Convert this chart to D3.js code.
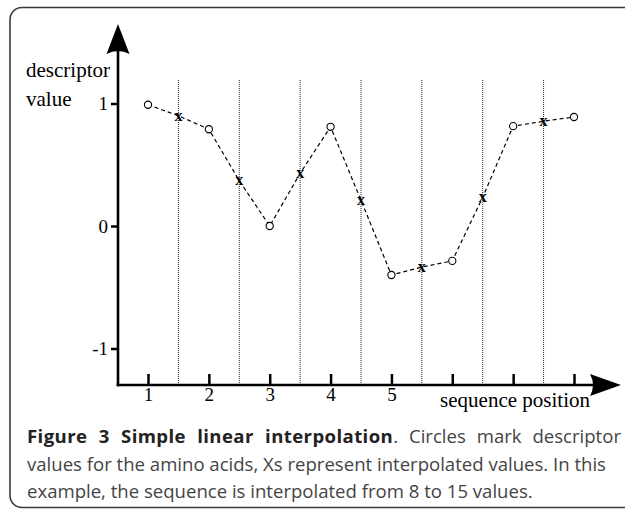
<!DOCTYPE html>
<html>
<head>
<meta charset="utf-8">
<script src="https://cdn.jsdelivr.net/npm/d3@7/dist/d3.min.js"></script>
<style>
  html, body { margin: 0; padding: 0; background: #fff; }
  svg { display: block; }
</style>
</head>
<body>
<svg id="chart" width="625" height="511"></svg>
<script>
// ---- data ----
const positions = [1, 2, 3, 4, 5, 6, 7, 8];
const descriptorValues = [0.99, 0.79, 0.0, 0.81, -0.40, -0.285, 0.815, 0.89];
const interpPositions = [1.5, 2.5, 3.5, 4.5, 5.5, 6.5, 7.5];
const interpValues = [0.90, 0.37, 0.43, 0.21, -0.335, 0.235, 0.855];
const yTickValues = [-1, 0, 1];
const yTickLabels = ["-1", "0", "1"];
const xTickLabels = ["1", "2", "3", "4", "5", "", "", ""];
const yTitleLines = ["descriptor", "value"];
const xTitle = "sequence position";
const captionBold = "Figure 3 Simple linear interpolation";
const captionLines = [
  ". Circles mark descriptor",
  "values for the amino acids, Xs represent interpolated values. In this",
  "example, the sequence is interpolated from 8 to 15 values."
];

// ---- layout ----
const svg = d3.select("#chart");
const x = d3.scaleLinear().domain([1, 8]).range([148, 574]);
const y = d3.scaleLinear().domain([-1, 1]).range([348.5, 103.5]);
const axisX0 = 118, axisY0 = 385;
const serif = "'Liberation Serif', 'Times New Roman', serif";

// frame
svg.append("rect")
  .attr("x", 10).attr("y", 7.5).attr("width", 680).attr("height", 500)
  .attr("rx", 12).attr("ry", 12)
  .attr("fill", "none").attr("stroke", "#3a3a3a").attr("stroke-width", 1.6);

// vertical dotted lines at interpolation points
svg.append("g").selectAll("line").data(interpPositions).join("line")
  .attr("x1", d => x(d)).attr("x2", d => x(d))
  .attr("y1", 80).attr("y2", axisY0)
  .attr("stroke", "#222").attr("stroke-width", 1)
  .attr("stroke-dasharray", "1,1");

// y axis ticks
const yAxis = d3.axisLeft(y).tickValues(yTickValues).tickSize(7).tickPadding(3)
  .tickFormat((d, i) => yTickLabels[i]);
const gy = svg.append("g").attr("transform", `translate(${axisX0},0)`).call(yAxis);
gy.select(".domain").remove();
gy.selectAll(".tick line").attr("stroke", "#000").attr("stroke-width", 2.5);
gy.selectAll(".tick text").attr("font-family", serif).attr("font-size", 19)
  .attr("fill", "#000").attr("dy", "0.34em");

// x axis ticks (upward)
const xAxis = d3.axisBottom(x).tickValues(positions).tickSize(-11)
  .tickFormat((d, i) => xTickLabels[i]);
const gx = svg.append("g").attr("transform", `translate(0,${axisY0})`).call(xAxis);
gx.select(".domain").remove();
gx.selectAll(".tick line").attr("stroke", "#000").attr("stroke-width", 2.5);
gx.selectAll(".tick text").attr("font-family", serif).attr("font-size", 19)
  .attr("fill", "#000").attr("y", 16).attr("dy", 0);

// main axis lines with arrows
svg.append("line").attr("x1", axisX0).attr("x2", axisX0)
  .attr("y1", axisY0 + 1.25).attr("y2", 50)
  .attr("stroke", "#000").attr("stroke-width", 2.6);
svg.append("line").attr("x1", axisX0 - 1.3).attr("x2", 595)
  .attr("y1", axisY0).attr("y2", axisY0)
  .attr("stroke", "#000").attr("stroke-width", 2.6);
svg.append("path")
  .attr("d", `M${axisX0},24 L${axisX0 + 11.5},54 Q${axisX0},48 ${axisX0 - 11.5},54 Z`)
  .attr("fill", "#000");
svg.append("path")
  .attr("d", `M621,${axisY0} L590,${axisY0 + 11} Q596,${axisY0} 590,${axisY0 - 11} Z`)
  .attr("fill", "#000");

// combined series for dashed line
const allPts = [];
positions.forEach((p, i) => {
  allPts.push([p, descriptorValues[i]]);
  if (i < interpPositions.length) allPts.push([interpPositions[i], interpValues[i]]);
});
const line = d3.line().x(d => x(d[0])).y(d => y(d[1]));
svg.append("path").attr("d", line(allPts))
  .attr("fill", "none").attr("stroke", "#000").attr("stroke-width", 1.2)
  .attr("stroke-dasharray", "4,3");

// X marks
svg.append("g").selectAll("text").data(interpPositions).join("text")
  .attr("x", d => x(d)).attr("y", (d, i) => y(interpValues[i]))
  .attr("dy", "0.3em")
  .attr("text-anchor", "middle")
  .attr("font-family", serif).attr("font-weight", "bold").attr("font-size", 16)
  .attr("fill", "#000")
  .text("x");

// circles
svg.append("g").selectAll("circle").data(positions).join("circle")
  .attr("cx", d => x(d)).attr("cy", (d, i) => y(descriptorValues[i]))
  .attr("r", 3.6)
  .attr("fill", "#fff").attr("stroke", "#000").attr("stroke-width", 1.1);

// axis titles
const yt = svg.append("text").attr("font-family", serif).attr("font-size", 21).attr("fill", "#000");
yt.selectAll("tspan").data(yTitleLines).join("tspan")
  .attr("x", 26).attr("y", (d, i) => 77 + i * 29).text(d => d);
svg.append("text").attr("font-family", serif).attr("font-size", 21).attr("fill", "#000")
  .attr("x", 590).attr("y", 407).attr("text-anchor", "end").text(xTitle);

// caption
const capFont = "'Open Sans', 'Noto Sans', sans-serif";
const capX = 27;
const capBaselines = [443, 471, 498];
const capTargets = [621, 602, 533];
// fit font size to last line
let fs = 18;
const probe = svg.append("text").attr("font-family", capFont).attr("font-size", fs).text(captionLines[2]);
const w3 = probe.node().getComputedTextLength();
fs = fs * (capTargets[2] - capX) / w3;
probe.remove();

captionLines.forEach((txt, i) => {
  const t = svg.append("text").attr("font-family", capFont).attr("font-size", fs)
    .attr("x", capX).attr("y", capBaselines[i]).attr("fill", "#444");
  let full = txt;
  if (i === 0) {
    t.append("tspan").attr("font-weight", "bold").attr("fill", "#222")
      .attr("letter-spacing", 0.4).text(captionBold);
    t.append("tspan").text(txt);
    full = captionBold + txt;
  } else {
    t.text(txt);
  }
  if (i < 2) {
    const nat = t.node().getComputedTextLength();
    const gaps = (full.match(/ /g) || []).length;
    if (gaps > 0) t.attr("word-spacing", Math.max(0, (capTargets[i] - capX - nat) / gaps));
  }
});
</script>
</body>
</html>
